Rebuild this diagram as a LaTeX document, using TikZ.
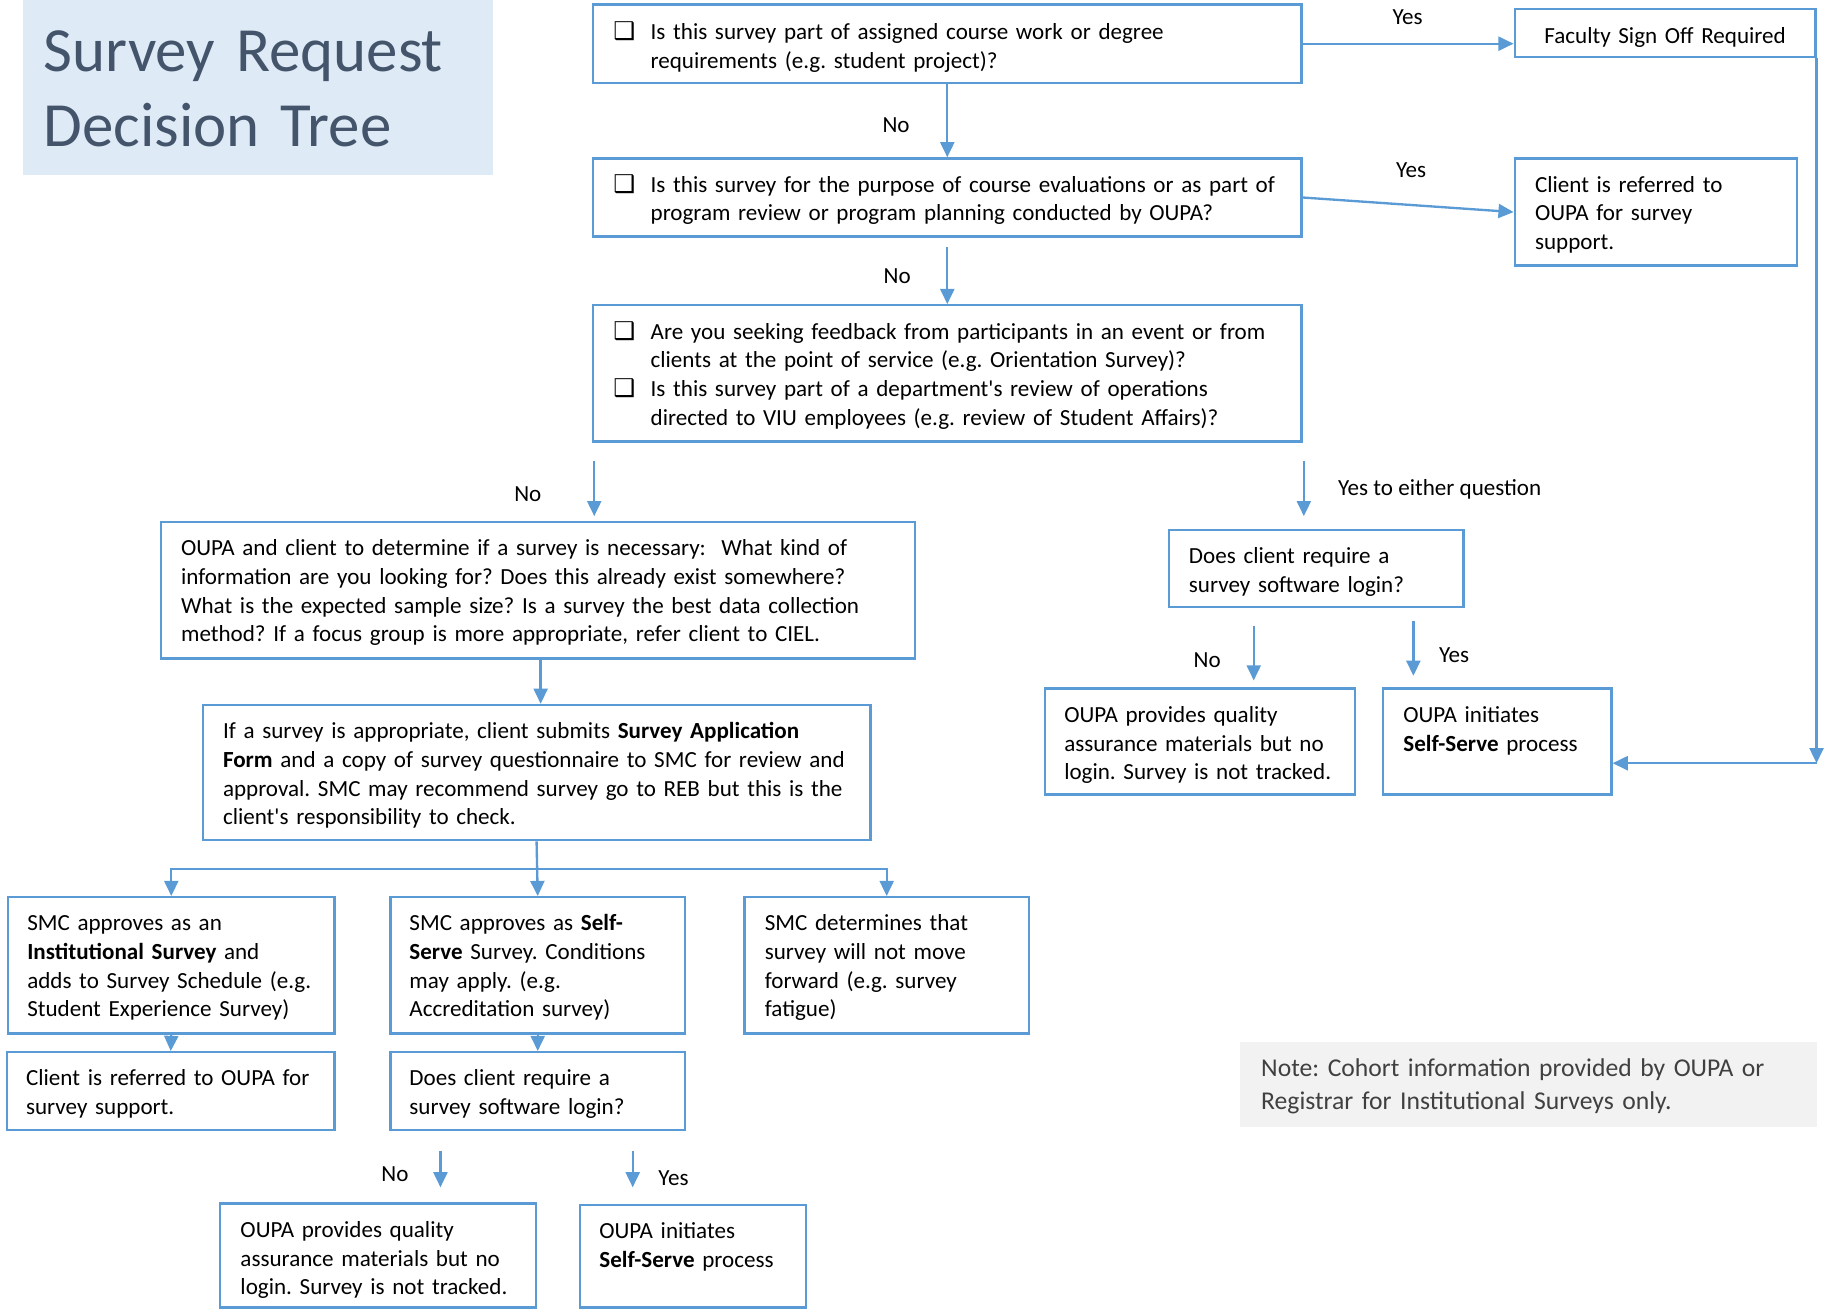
\documentclass[tikz,border=0pt]{standalone}
\usepackage{fontspec}
\setmainfont{Carlito}[Ligatures=TeXOff]
\newfontfamily\dv{DejaVu Sans}
\usetikzlibrary{arrows.meta}
\definecolor{boxblue}{HTML}{5B9BD5}
\definecolor{titlefill}{HTML}{DEEBF7}
\definecolor{titletext}{HTML}{44546A}
\definecolor{notefill}{HTML}{F2F2F2}
\definecolor{notetext}{HTML}{404040}
\newcommand\bodyf{\fontsize{9.9pt}{12.3pt}\selectfont\frenchspacing}
\newcommand\bx[5]{\node[box, minimum width={(#4-#2)*0.5pt}, minimum height={(#5-#3)*0.5pt}] (#1) at ({(#2+#4)/2},{(#3+#5)/2}) {};}
\tikzset{
  box/.style={draw=boxblue, line width=1pt, inner sep=0pt, anchor=center},
  txt/.style={inner sep=0pt, anchor=base west, text width=420pt, align=left, font=\bodyf},
  lbl/.style={inner sep=0pt, anchor=base, font=\bodyf},
  cbx/.style={inner sep=0pt, anchor=base west, font=\dv\fontsize{10.5pt}{10pt}\selectfont},
  arr/.style={draw=boxblue, line width=1pt, -{Triangle[width=6pt,length=6.5pt]}},
  ln/.style={draw=boxblue, line width=1pt},
}
\begin{document}
\begin{tikzpicture}[x=0.5pt,y=-0.5pt]
\useasboundingbox (0,0) rectangle (1568,1124);
% title
\node[fill=titlefill, inner sep=0pt, minimum width=202pt, minimum height=75pt, anchor=north west] (titlebg) at (19,0) {};
\node[inner sep=0pt, anchor=base west, text width=200pt, align=left, text=titletext, font=\fontsize{27pt}{32.5pt}\selectfont] (title) at (37,61) {Survey Request\\Decision Tree};
% note
\node[fill=notefill, inner sep=0pt, minimum width=247.5pt, minimum height=36.5pt, anchor=north west] (notebg) at (1064,894) {};
\node[inner sep=0pt, anchor=base west, text width=240pt, align=left, text=notetext, font=\fontsize{11pt}{14pt}\selectfont\frenchspacing] (note) at (1082,924) {Note: Cohort information provided by OUPA or\\Registrar for Institutional Surveys only.};
% boxes
\bx{b1}{509}{4}{1117}{71}
\bx{fac}{1300}{8}{1558}{49}
\bx{b2}{509}{136}{1117}{203}
\bx{r2}{1300}{136}{1542}{228}
\bx{b3}{509}{262}{1117}{379}
\bx{d1}{138}{448}{785}{565}
\bx{d2}{174}{605}{747}{721}
\bx{h}{1003}{455}{1256}{521}
\bx{i1}{897}{591}{1163}{682}
\bx{i2}{1187}{591}{1383}{682}
\bx{e1}{7}{770}{287}{887}
\bx{e2}{335}{770}{588}{887}
\bx{e3}{639}{770}{883}{887}
\bx{f1}{6}{903}{287}{970}
\bx{f2}{335}{903}{588}{970}
\bx{g1}{189}{1033}{460}{1122}
\bx{g2}{498}{1034}{692}{1122}
% checkboxes
\node[cbx] (c1) at (526,34) {❑};
\node[cbx] (c2) at (526,165) {❑};
\node[cbx] (c3) at (526,291) {❑};
\node[cbx] (c4) at (526,340) {❑};
% texts
\node[txt] (b1t) at (558,34) {Is this survey part of assigned course work or degree\\requirements (e.g. student project)?};
\node[txt] (fact) at (1325,37) {Faculty Sign Off Required};
\node[txt] (b2t) at (558,165) {Is this survey for the purpose of course evaluations or as part of\\program review or program planning conducted by OUPA?};
\node[txt] (r2t) at (1317,165) {Client is referred to\\OUPA for survey\\support.};
\node[txt] (b3t) at (558,291) {Are you seeking feedback from participants in an event or from\\clients at the point of service (e.g. Orientation Survey)?\\Is this survey part of a department's review of operations\\directed to VIU employees (e.g. review of Student Affairs)?};
\node[txt] (d1t) at (155,477) {OUPA and client to determine if a survey is necessary:~ What kind of\\information are you looking for? Does this already exist somewhere?\\What is the expected sample size? Is a survey the best data collection\\method? If a focus group is more appropriate, refer client to CIEL.};
\node[txt] (d2t) at (191,634) {If a survey is appropriate, client submits \textbf{Survey Application}\\\textbf{Form} and a copy of survey questionnaire to SMC for review and\\approval. SMC may recommend survey go to REB but this is the\\client's responsibility to check.};
\node[txt] (ht) at (1020,484) {Does client require a\\survey software login?};
\node[txt] (i1t) at (913,620) {OUPA provides quality\\assurance materials but no\\login. Survey is not tracked.};
\node[txt] (i2t) at (1204,620) {OUPA initiates\\\textbf{Self-Serve} process};
\node[txt] (e1t) at (23,799) {SMC approves as an\\\textbf{Institutional Survey} and\\adds to Survey Schedule (e.g.\\Student Experience Survey)};
\node[txt] (e2t) at (351,799) {SMC approves as \textbf{Self-}\\\textbf{Serve} Survey. Conditions\\may apply. (e.g.\\Accreditation survey)};
\node[txt] (e3t) at (656,799) {SMC determines that\\survey will not move\\forward (e.g. survey\\fatigue)};
\node[txt] (f1t) at (22,932) {Client is referred to OUPA for\\survey support.};
\node[txt] (f2t) at (351,932) {Does client require a\\survey software login?};
\node[txt] (g1t) at (206,1062) {OUPA provides quality\\assurance materials but no\\login. Survey is not tracked.};
\node[txt] (g2t) at (514,1063) {OUPA initiates\\\textbf{Self-Serve} process};
% labels
\node[lbl] (l1) at (1208,21) {Yes};
\node[lbl] (l2) at (1211,152) {Yes};
\node[lbl] (l3) at (769,114) {No};
\node[lbl] (l4) at (770,243) {No};
\node[lbl] (l5) at (453,430) {No};
\node[lbl, anchor=base west] (l6) at (1148,425) {Yes to either question};
\node[lbl] (l7) at (1036,573) {No};
\node[lbl] (l8) at (1248,569) {Yes};
\node[lbl] (l9) at (339,1014) {No};
\node[lbl] (l10) at (578,1017) {Yes};
% free arrow ends
\coordinate (a3s) at (813,212);
\coordinate (a4s) at (510,396);
\coordinate (a4e) at (510,443);
\coordinate (a5s) at (1119,396);
\coordinate (a5e) at (1119,443);
\coordinate (a6s) at (1076,537);
\coordinate (a6e) at (1076,584);
\coordinate (a7s) at (1213,533);
\coordinate (a7e) at (1213,580);
\coordinate (a8s) at (378,988);
\coordinate (a8e) at (378,1019);
\coordinate (a9s) at (543,988);
\coordinate (a9e) at (543,1019);
\coordinate (split) at (461,746);
\coordinate (dx) at (464,0);
\coordinate (fcorner) at (1559,655);
% connectors
\draw[arr] (b1.east) -- (b1.east -| fac.west);
\draw[arr] (b1.south) -- (b2.north);
\draw[arr] (b2.east) -- (r2.west);
\draw[arr] (a3s) -- (b3.north);
\draw[arr] (a4s) -- (a4e);
\draw[arr] (a5s) -- (a5e);
\draw[arr] (a6s) -- (a6e);
\draw[arr] (a7s) -- (a7e);
\draw[arr] (dx |- d1.south) -- (dx |- d2.north);
\draw[ln] (d2.south) -- (split);
\draw[arr] (split) -- (e2.north);
\draw[arr] (split) -| (e1.north);
\draw[arr] (split) -| (e3.north);
\draw[arr] (e1.south) -- (f1.north);
\draw[arr] (e2.south) -- (f2.north);
\draw[arr] (a8s) -- (a8e);
\draw[arr] (a9s) -- (a9e);
\draw[arr] (fac.south east) -- (fcorner);
\draw[arr] (fcorner) -- (fcorner -| i2.east);
\end{tikzpicture}
\end{document}
